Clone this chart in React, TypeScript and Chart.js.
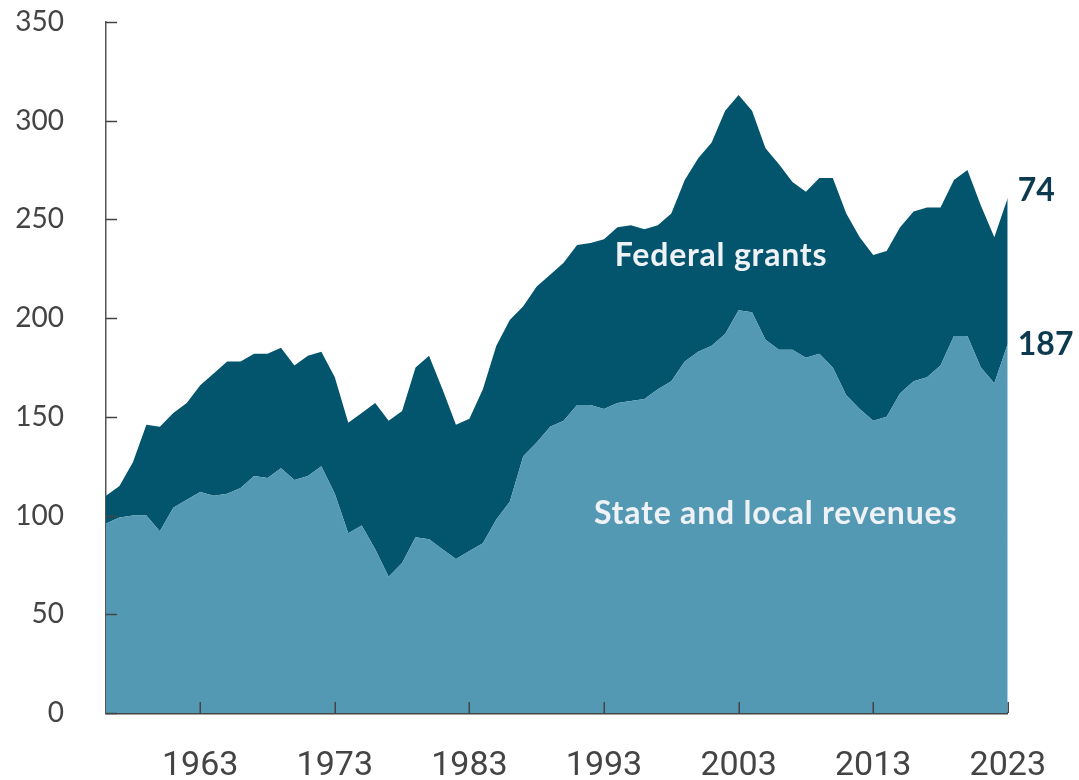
import React, { useEffect, useRef } from "react";
import { Chart, registerables } from "chart.js";

Chart.register(...registerables);

const years = [
  1956, 1957, 1958, 1959, 1960, 1961, 1962, 1963, 1964, 1965, 1966, 1967, 1968, 1969,
  1970, 1971, 1972, 1973, 1974, 1975, 1976, 1977, 1978, 1979, 1980, 1981, 1982, 1983,
  1984, 1985, 1986, 1987, 1988, 1989, 1990, 1991, 1992, 1993, 1994, 1995, 1996, 1997,
  1998, 1999, 2000, 2001, 2002, 2003, 2004, 2005, 2006, 2007, 2008, 2009, 2010, 2011,
  2012, 2013, 2014, 2015, 2016, 2017, 2018, 2019, 2020, 2021, 2022, 2023,
];

const stateLocal = [
  96, 99, 100, 100, 92, 104, 108, 112, 110, 111, 114, 120, 119, 124,
  118, 120, 125, 111, 91, 95, 83, 69, 76, 89, 88, 83, 78, 82,
  86, 98, 107, 130, 137, 145, 148, 156, 156, 154, 157, 158, 159, 164,
  168, 178, 183, 186, 192, 204, 203, 189, 184, 184, 180, 182, 175, 161,
  154, 148, 150, 162, 168, 170, 176, 191, 191, 175, 167, 187,
];

const federal = [
  14, 16, 27, 46, 53, 48, 49, 54, 62, 67, 64, 62, 63, 61,
  58, 61, 58, 59, 56, 57, 74, 79, 77, 86, 93, 81, 68, 67,
  78, 88, 92, 76, 79, 77, 80, 81, 82, 86, 89, 89, 86, 83,
  85, 92, 98, 103, 113, 109, 102, 97, 94, 85, 84, 89, 96, 92,
  87, 84, 84, 84, 86, 86, 80, 79, 84, 82, 74, 74,
];

const xTickYears = [1963, 1973, 1983, 1993, 2003, 2013, 2023];
const yTickValues = [0, 50, 100, 150, 200, 250, 300, 350];

const seriesNames = ["State and local revenues", "Federal grants"];

const LIGHT = "#5399b3";
const DARK = "#03556e";
const NAVY = "#0d3a4f";
const AXIS = "#444444";

const tickMarksPlugin = {
  id: "tickMarks",
  afterDatasetsDraw(chart: any) {
    const { ctx, scales } = chart;
    const x = scales.x;
    const y = scales.y;
    ctx.save();
    ctx.strokeStyle = AXIS;
    ctx.lineWidth = 1.5;
    ctx.beginPath();
    yTickValues.forEach((v) => {
      const py = Math.round(y.getPixelForValue(v)) + 0.5;
      ctx.moveTo(x.left, py);
      ctx.lineTo(x.left + 11, py);
    });
    xTickYears.forEach((v) => {
      const px = Math.round(x.getPixelForValue(v)) + 0.25;
      ctx.moveTo(px, y.bottom);
      ctx.lineTo(px, y.bottom - 11);
    });
    ctx.stroke();
    ctx.restore();
  },
};

const labelsPlugin = {
  id: "areaLabels",
  afterDatasetsDraw(chart: any) {
    const { ctx, scales } = chart;
    const x = scales.x;
    const y = scales.y;
    ctx.save();
    ctx.font = "bold 32px Lato, 'Open Sans', sans-serif";
    try {
      (ctx as any).letterSpacing = "0.8px";
    } catch (e) {
      /* ignore */
    }
    ctx.fillStyle = "#eef1f5";
    ctx.textAlign = "center";
    ctx.textBaseline = "alphabetic";
    ctx.fillText(seriesNames[1], x.getPixelForValue(2001.7), y.getPixelForValue(226.4));
    ctx.fillText(seriesNames[0], x.getPixelForValue(2005.75), y.getPixelForValue(95.6));

    try {
      (ctx as any).letterSpacing = "0px";
    } catch (e) {
      /* ignore */
    }
    const last = years.length - 1;
    const lastX = x.getPixelForValue(years[last]);
    const sl = stateLocal[last];
    const fed = federal[last];
    ctx.fillStyle = NAVY;
    ctx.textAlign = "left";
    ctx.textBaseline = "middle";
    ctx.font = "bold 32px Lato, 'Open Sans', sans-serif";
    ctx.fillText(String(fed), lastX + 10, y.getPixelForValue(sl + fed) - 7);
    ctx.fillText(String(sl), lastX + 10, y.getPixelForValue(sl) + 1);
    ctx.restore();
  },
};

export default function App() {
  const canvasRef = useRef<HTMLCanvasElement | null>(null);

  useEffect(() => {
    if (!canvasRef.current) return;
    const chart = new Chart(canvasRef.current, {
      type: "line",
      data: {
        datasets: [
          {
            label: seriesNames[0],
            data: years.map((yr, i) => ({ x: yr, y: stateLocal[i] })),
            backgroundColor: LIGHT,
            borderWidth: 0,
            pointRadius: 0,
            tension: 0,
            fill: "origin",
          },
          {
            label: seriesNames[1],
            data: years.map((yr, i) => ({ x: yr, y: federal[i] })),
            backgroundColor: DARK,
            borderWidth: 0,
            pointRadius: 0,
            tension: 0,
            fill: "-1",
          },
        ],
      },
      options: {
        responsive: false,
        animation: false,
        layout: { padding: { top: 22, right: 68, bottom: 0, left: 0 } },
        plugins: {
          legend: { display: false },
          tooltip: { enabled: false },
        },
        scales: {
          x: {
            type: "linear",
            min: 1956,
            max: 2023,
            afterBuildTicks: (scale: any) => {
              scale.ticks = xTickYears.map((v) => ({ value: v }));
            },
            afterFit: (scale: any) => {
              scale.height = 67;
            },
            grid: { display: false, drawTicks: false },
            border: { display: true, color: AXIS, width: 2.5 },
            ticks: {
              padding: 33,
              color: AXIS,
              maxRotation: 0,
              autoSkip: false,
              font: { family: "'Liberation Sans Narrow', 'Roboto', sans-serif", size: 34 },
              callback: (v: any) => String(v),
            },
          },
          y: {
            stacked: true,
            min: 0,
            max: 350,
            afterBuildTicks: (scale: any) => {
              scale.ticks = yTickValues.map((v) => ({ value: v }));
            },
            afterFit: (scale: any) => {
              scale.width = 106;
            },
            grid: { display: false, drawTicks: true, tickLength: 42 },
            border: { display: true, color: "#555555", width: 1.5 },
            ticks: {
              padding: 0,
              color: AXIS,
              font: { family: "Lato, 'Open Sans', sans-serif", size: 28 },
              callback: (v: any) => String(v),
            },
          },
        },
      },
      plugins: [tickMarksPlugin, labelsPlugin],
    });
    return () => chart.destroy();
  }, []);

  return (
    <div style={{ position: "absolute", left: 0, top: 0, width: 1079, height: 780, background: "#fff" }}>
      <canvas ref={canvasRef} width={1079} height={780} />
    </div>
  );
}
